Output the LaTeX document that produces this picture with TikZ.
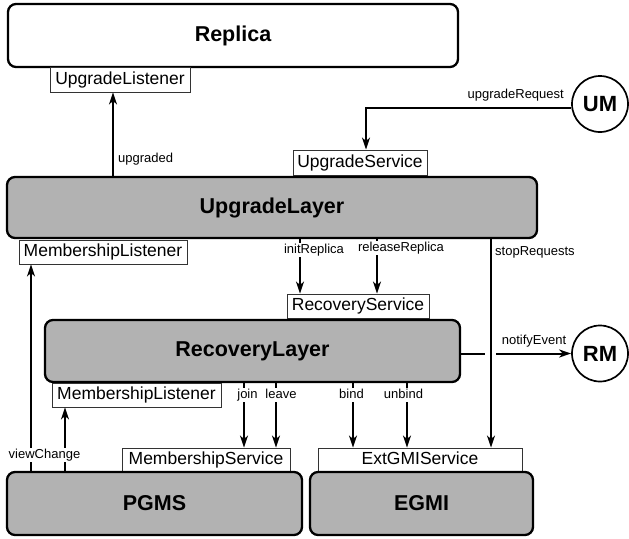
\documentclass[tikz,border=0pt]{standalone}
\usepackage{fontspec}
\setmainfont{Liberation Sans}
\usetikzlibrary{arrows.meta}

\begin{document}
\begin{tikzpicture}[x=1pt,y=-1pt]

	\tikzstyle layer box=[draw, line width=2.3pt, rounded corners=8pt, fill=black!30, inner sep=0pt, font=\fontsize{21.5}{24}\selectfont\bfseries];
	\tikzstyle service box=[draw=black!80, line width=0.9pt, fill=white, inner sep=0pt, minimum height=24, text height=12.6pt, text depth=3.6pt, font=\fontsize{17.5}{20}\selectfont];
	\tikzstyle manager=[draw, circle, line width=1.7pt, minimum size=56, inner sep=0pt, font=\fontsize{22}{24}\selectfont\bfseries];
	\tikzstyle call lines=[line width=2pt, -{Stealth[length=12pt,width=8pt,inset=3.5pt]}];
	\tikzstyle call label=[fill=white, inner sep=1pt, text height=9.4pt, text depth=2.7pt, font=\fontsize{13}{15}\selectfont];

	\useasboundingbox (0,0) rectangle (629,538);

	% components and their interfaces
	\node[layer box, fill=white, minimum width=450, minimum height=63] (replica) at (233,35.5) {Replica};
	\node[service box, minimum width=140, minimum height=25] (upgradelistener) at (120,79.5) {UpgradeListener};
	\node[service box, minimum width=134, minimum height=25] (upgradeservice) at (360,162.5) {UpgradeService};
	\node[layer box, minimum width=530, minimum height=61] (upgradelayer) at (272,207.5) {UpgradeLayer};
	\node[service box, minimum width=168] (memberlistenerA) at (103,252) {MembershipListener};
	\node[service box, minimum width=142] (recoveryservice) at (358,306) {RecoveryService};
	\node[layer box, minimum width=415, minimum height=62] (recoverylayer) at (252.5,351) {RecoveryLayer};
	\node[service box, minimum width=169] (memberlistenerB) at (136.5,395) {MembershipListener};
	\node[service box, minimum width=168] (memberservice) at (206,460) {MembershipService};
	\node[service box, minimum width=204] (extgmiservice) at (420,460) {ExtGMIService};
	\node[layer box, minimum width=295, minimum height=63] (pgms) at (154.5,503.5) {PGMS};
	\node[layer box, minimum width=223, minimum height=63] (egmi) at (421.5,503.5) {EGMI};
	\node[manager] (um) at (600,104) {UM};
	\node[manager] (rm) at (600,353.5) {RM};

	% calls
	\draw[call lines] (upgradelayer.north -| 113,0) -- (upgradelistener.south -| 113,0);
	\draw[call lines] (um.188) -| (upgradeservice.north -| 366,0);
	\foreach \x in {300,377}
		\draw[call lines] (upgradelayer.south -| \x,0) -- (recoveryservice.north -| \x,0);
	\foreach \x in {244,276}
		\draw[call lines] (recoverylayer.south -| \x,0) -- (memberservice.north -| \x,0);
	\foreach \x in {353,407}
		\draw[call lines] (recoverylayer.south -| \x,0) -- (extgmiservice.north -| \x,0);
	\draw[call lines] (upgradelayer.south -| 491,0) -- (extgmiservice.north -| 491,0);
	\draw[call lines] (pgms.north -| 31,0) -- (memberlistenerA.south -| 31,0);
	\draw[call lines] (pgms.north -| 65,0) -- (memberlistenerB.south -| 65,0);
	\draw[line width=2pt] (recoverylayer.east |- rm) -- (rm -| 485,0);
	\draw[call lines] (rm -| 496,0) -- (rm.west);

	% call names
	\node[call label, anchor=west] (lblupgraded) at (117,159) {upgraded};
	\node[call label, anchor=east] (lblrequest) at (565,95) {upgradeRequest};
	\node[call label] (lblinit) at (314,250) {initReplica};
	\node[call label] (lblrelease) at (401,248) {releaseReplica};
	\node[call label, anchor=west] (lblstop) at (494,252) {stopRequests};
	\node[call label] (lblnotify) at (534,341) {notifyEvent};
	\node[call label] (lbljoin) at (247.5,395) {join};
	\node[call label] (lblleave) at (281,395) {leave};
	\node[call label] (lblbind) at (351.5,395) {bind};
	\node[call label] (lblunbind) at (403.5,395) {unbind};
	\node[call label] (lblview) at (44.5,455) {viewChange};

\end{tikzpicture}
\end{document}
